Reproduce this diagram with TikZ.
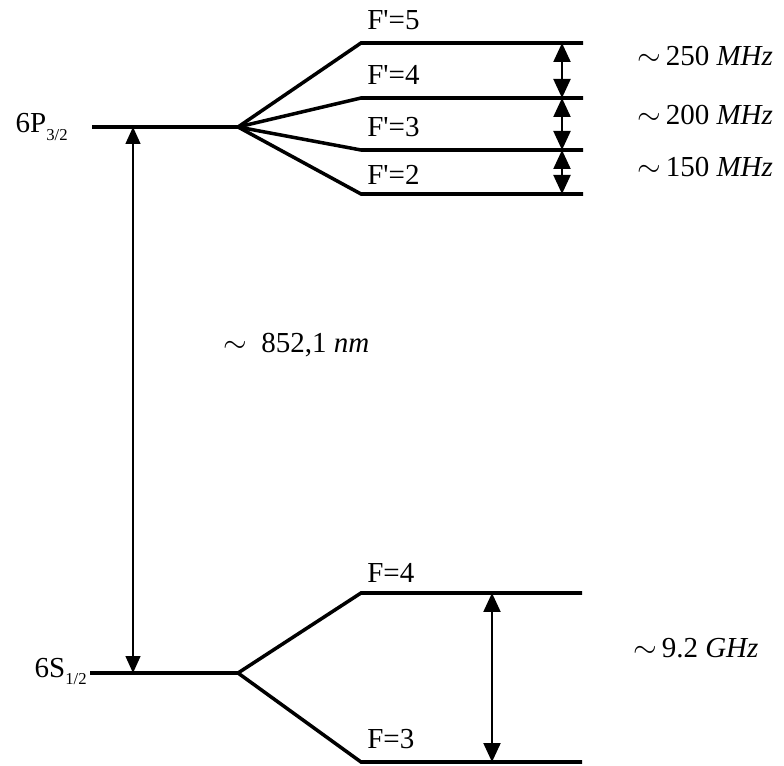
\documentclass[tikz,border=0pt]{standalone}
\usepackage{fontspec}
\setmainfont{Liberation Serif}
\usetikzlibrary{arrows.meta,positioning}

\newcommand{\lowsub}[1]{\raisebox{-0.55ex}{\fontsize{9.5}{10}\selectfont #1}}

\begin{document}
\begin{tikzpicture}[x=0.02cm,y=-0.02cm,
  level/.style={line width=2pt},
  gap/.style={line width=1.2pt,{Triangle[length=0.38cm,width=0.34cm]}-{Triangle[length=0.38cm,width=0.34cm]}},
  laser/.style={line width=0.8pt,{Triangle[length=0.34cm,width=0.3cm]}-{Triangle[length=0.34cm,width=0.3cm]}},
  lbl/.style={inner sep=0pt,anchor=base west,font=\fontsize{16.5}{20}\selectfont}]
\useasboundingbox (0,0) rectangle (784,766);
\coordinate (Pl) at (92,127);
\coordinate (P) at (238,127);
\coordinate (Sl) at (90,673);
\coordinate (S) at (238,673);
\draw[level] (Pl) -- (P);
\draw[level] (Sl) -- (S);
\node[lbl,anchor=base east] (p32) at (68,133) {6P\lowsub{3/2}};
\node[lbl,anchor=base east] (s12) at (87,677) {6S\lowsub{1/2}};
\foreach \f/\y/\b in {5/43/30,4/98/85,3/150/137,2/194/185} {
  \coordinate (fl\f) at (361,\y);
  \coordinate (fr\f) at (583,\y);
  \coordinate (g\f) at (562,\y);
  \draw[level] (P) -- (fl\f) -- (fr\f);
  \node[lbl] (lab\f) at (367,\b) {F\textquotesingle=\f};
}
\foreach \a/\b/\v/\y in {5/4/250/66,4/3/200/125,3/2/150/177} {
  \draw[gap] (g\a) -- (g\b);
  \node[lbl] (mhz\v) at (637,\y) {$\sim$\,\v\ \textit{MHz}};
}
\coordinate (hl4) at (361,593);
\coordinate (hr4) at (582,593);
\coordinate (hl3) at (361,762);
\coordinate (hr3) at (582,762);
\coordinate (h4) at (492,593);
\coordinate (h3) at (492,762);
\draw[level] (S) -- (hl4) -- (hr4);
\draw[level] (S) -- (hl3) -- (hr3);
\node[lbl] (hf4) at (367,582) {F=4};
\node[lbl] (hf3) at (367,748) {F=3};
\draw[gap] (h4) -- (h3);
\node[lbl] (ghz) at (633,657) {$\sim$\,9.2 \textit{GHz}};
\coordinate (up) at (133,127);
\coordinate (dn) at (133,673);
\draw[laser] (dn) -- (up);
\node[lbl] (nm) at (223,353) {$\sim$\ \ 852,1 \textit{nm}};
\end{tikzpicture}
\end{document}
